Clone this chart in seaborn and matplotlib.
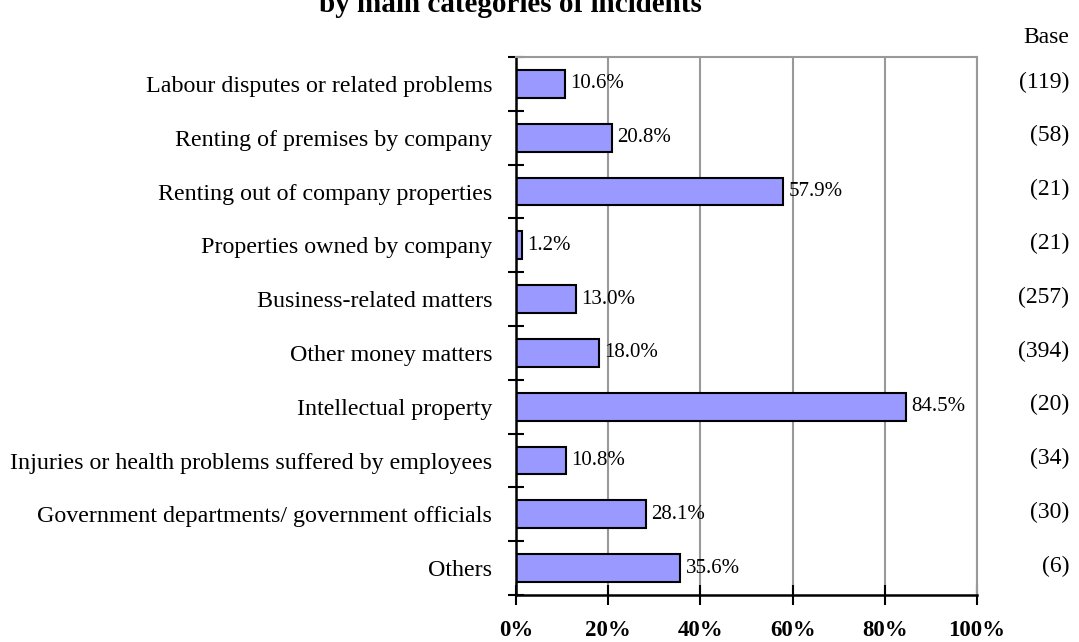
import matplotlib
matplotlib.use('Agg')
import matplotlib.pyplot as plt
import seaborn as sns
import numpy as np

categories = [
    'Labour disputes or related problems',
    'Renting of premises by company',
    'Renting out of company properties',
    'Properties owned by company',
    'Business-related matters',
    'Other money matters',
    'Intellectual property',
    'Injuries or health problems suffered by employees',
    'Government departments/ government officials',
    'Others',
]
percentages = [10.6, 20.8, 57.9, 1.2, 13.0, 18.0, 84.5, 10.8, 28.1, 35.6]
bases = ['(119)', '(58)', '(21)', '(21)', '(257)', '(394)', '(20)', '(34)', '(30)', '(6)']
x_ticks = [0, 20, 40, 60, 80, 100]

sns.set_theme(style='white')
plt.rcParams['font.family'] = ['Liberation Serif', 'DejaVu Serif']
plt.rcParams['text.color'] = 'black'
plt.rcParams['xtick.color'] = 'black'
plt.rcParams['ytick.color'] = 'black'

fig = plt.figure(figsize=(10.79, 6.42), dpi=100)
ax = fig.add_axes([0.4782, 0.0732, 0.4273, 0.838])

sns.barplot(x=percentages, y=categories, orient='h', color='#9999FF',
            saturation=1, edgecolor='black', linewidth=1.5, width=0.52, ax=ax)

ax.set_xlim(0, 100)
ax.set_ylim(9.5, -0.5)
ax.set_xticks(x_ticks)
ax.set_xticklabels([f'{t}%' for t in x_ticks], fontsize=16.5, fontweight='bold')
ax.xaxis.grid(True, color='#999999', linewidth=1.5)
ax.set_axisbelow(True)

# category labels, tick marks between categories
ax.tick_params(axis='y', which='major', length=0, pad=17, labelsize=17.3)
ax.set_yticks(np.arange(-0.5, len(categories), 1), minor=True)
ax.tick_params(axis='y', which='minor', length=12, width=1.5, direction='inout', left=True)
ax.tick_params(axis='x', which='major', length=14, width=1.5, direction='inout', bottom=True, pad=11)
ax.set_xlabel('')
ax.set_ylabel('')

for side in ['left', 'bottom']:
    ax.spines[side].set_color('black')
    ax.spines[side].set_linewidth(1.8)
for side in ['top', 'right']:
    ax.spines[side].set_color('#999999')
    ax.spines[side].set_linewidth(1.5)
    ax.spines[side].set_visible(True)

# value labels
for i, v in enumerate(percentages):
    ax.annotate(f'{v:.1f}%', xy=(v, i), xytext=(4, 0), textcoords='offset points',
                va='center', ha='left', fontsize=15)

# base column
fig.text(0.991, 0.941, 'Base', ha='right', va='center', fontsize=17)
for i, b in enumerate(bases):
    y_disp = ax.transData.transform((0, i))[1]
    y_fig = fig.transFigure.inverted().transform((0, y_disp))[1]
    fig.text(0.991, y_fig + 0.003, b, ha='right', va='center', fontsize=17)

fig.text(0.473, 0.981, 'by main categories of incidents', ha='center', va='baseline',
         fontsize=21, fontweight='bold')

fig.savefig('out.png', dpi=100, facecolor='white')
